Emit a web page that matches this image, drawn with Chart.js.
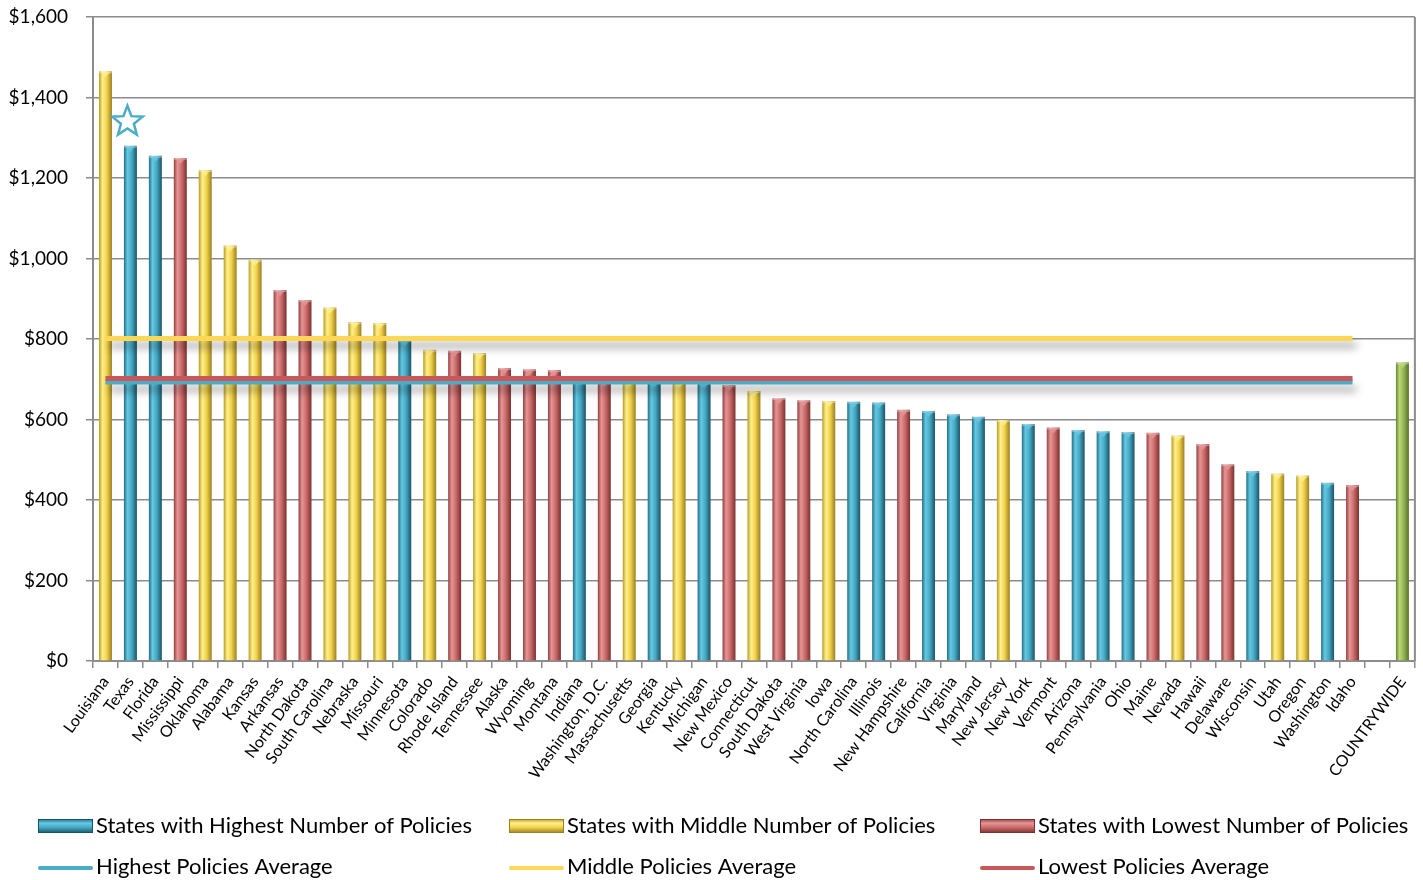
<!DOCTYPE html>
<html>
<head>
<meta charset="utf-8">
<title>Average premium by state</title>
<script src="https://cdn.jsdelivr.net/npm/chart.js@4.4.1/dist/chart.umd.min.js"></script>
<style>
  html, body { margin: 0; padding: 0; background: #fff; }
  #wrap { width: 1423px; height: 880px; }
</style>
</head>
<body>
<div id="wrap"><canvas id="premiumChart" width="1423" height="880"></canvas></div>
<script>
(function () {
    // --- DATA ---
    const STATES = [
        'Louisiana', 'Texas', 'Florida', 'Mississippi', 'Oklahoma', 'Alabama', 'Kansas',
        'Arkansas', 'North Dakota', 'South Carolina', 'Nebraska', 'Missouri', 'Minnesota',
        'Colorado', 'Rhode Island', 'Tennessee', 'Alaska', 'Wyoming', 'Montana', 'Indiana',
        'Washington, D.C.', 'Massachusetts', 'Georgia', 'Kentucky', 'Michigan', 'New Mexico',
        'Connecticut', 'South Dakota', 'West Virginia', 'Iowa', 'North Carolina', 'Illinois',
        'New Hampshire', 'California', 'Virginia', 'Maryland', 'New Jersey', 'New York',
        'Vermont', 'Arizona', 'Pennsylvania', 'Ohio', 'Maine', 'Nevada', 'Hawaii', 'Delaware',
        'Wisconsin', 'Utah', 'Oregon', 'Washington', 'Idaho'
    ];
    const PREMIUMS = [
        1465, 1280, 1255, 1250, 1220, 1032, 997,
        922, 897, 878, 842, 840, 797,
        773, 771, 765, 728, 725, 723, 700,
        697, 696, 695, 694, 692, 686,
        671, 653, 648, 646, 644, 642,
        624, 621, 613, 607, 599, 589,
        580, 574, 571, 569, 567, 560, 539, 489,
        472, 466, 461, 443, 437
    ];
    // policy-count tier of each state: H = highest, M = middle, L = lowest
    const TIERS = [
        'M', 'H', 'H', 'L', 'M', 'M', 'M',
        'L', 'L', 'M', 'M', 'M', 'H',
        'M', 'L', 'M', 'L', 'L', 'L', 'H',
        'L', 'M', 'H', 'M', 'H', 'L',
        'M', 'L', 'L', 'M', 'H', 'H',
        'L', 'H', 'H', 'H', 'M', 'H',
        'L', 'H', 'H', 'H', 'L', 'M', 'L', 'L',
        'H', 'M', 'M', 'H', 'L'
    ];
    const COUNTRYWIDE_LABEL = 'COUNTRYWIDE';
    const COUNTRYWIDE_PREMIUM = 742;
    const HIGH_AVG = 693;
    const MID_AVG = 801;
    const LOW_AVG = 702;
    const STAR_STATE = 'Texas';
    const STAR_VALUE = 1340;
    const Y_TICKS = [0, 200, 400, 600, 800, 1000, 1200, 1400, 1600];

    // --- STYLES ---
    const FONT = 'Lato, "Open Sans", sans-serif';
    const GRID = '#8c8c8c';
    const BLUE = ['#236f86', '#66c8e2', '#45a9c5', '#1b5366'];
    const YELLOW = ['#b89c26', '#fff08c', '#f2d24c', '#9a8020'];
    const RED = ['#943f3f', '#e59696', '#cc6a6a', '#7a3131'];
    const GREEN = ['#68842f', '#bad67a', '#95b552', '#56702a'];
    const LINE_BLUE = '#4bacc6';
    const LINE_YELLOW = '#ffd757';
    const LINE_RED = '#c9585a';

    const labels = STATES.concat(['', COUNTRYWIDE_LABEL]);
    const tierData = (tier) => labels.map((_, i) => (TIERS[i] === tier ? PREMIUMS[i] : null));
    const countrywideData = labels.map((l) => (l === COUNTRYWIDE_LABEL ? COUNTRYWIDE_PREMIUM : null));
    const first = STATES[0];
    const last = STATES[STATES.length - 1];
    const avgLine = (v) => [{ x: first, y: v }, { x: last, y: v }];

    const BAR_PCT = 0.52;

    // horizontal gradient across one bar, gives the cylinder look
    const barFill = (stops) => (c) => {
        const chart = c.chart;
        const xs = chart.scales.x;
        if (!chart.chartArea || !xs || c.dataIndex === undefined) return stops[2];
        const w = (xs.width / labels.length) * BAR_PCT;
        const cx = xs.getPixelForValue(c.dataIndex);
        const g = chart.ctx.createLinearGradient(cx - w / 2, 0, cx + w / 2, 0);
        g.addColorStop(0, stops[0]);
        g.addColorStop(0.28, stops[1]);
        g.addColorStop(0.6, stops[2]);
        g.addColorStop(1, stops[3]);
        return g;
    };

    const barSet = (label, data, stops) => ({
        type: 'bar',
        label: label,
        data: data,
        backgroundColor: barFill(stops),
        borderWidth: 0,
        categoryPercentage: 1,
        barPercentage: BAR_PCT,
        skipNull: true,
        order: 2,
        capColor: stops[1]
    });

    const lineSet = (label, v, color) => ({
        type: 'line',
        label: label,
        data: avgLine(v),
        borderColor: color,
        borderWidth: 5,
        pointRadius: 0,
        fill: false,
        order: 1,
        shadow: color !== LINE_RED
    });

    // --- PLUGINS ---
    // small bevelled cap on top of every bar
    const barCaps = {
        id: 'barCaps',
        afterDatasetDraw(chart, args) {
            const ds = chart.data.datasets[args.index];
            if (!ds.capColor) return;
            const ctx = chart.ctx;
            ctx.save();
            args.meta.data.forEach((bar, i) => {
                if (ds.data[i] === null) return;
                const half = bar.width / 2;
                ctx.fillStyle = 'rgba(255,255,255,0.35)';
                ctx.fillRect(bar.x - half, bar.y, bar.width, 2);
                ctx.globalAlpha = 0.8;
                ctx.fillStyle = ds.capColor;
                ctx.beginPath();
                ctx.moveTo(bar.x - half + 2, bar.y + 1);
                ctx.lineTo(bar.x + half - 2, bar.y + 1);
                ctx.lineTo(bar.x, bar.y + 6);
                ctx.closePath();
                ctx.fill();
                ctx.globalAlpha = 1;
            });
            ctx.restore();
        }
    };

    const lineShadow = {
        id: 'lineShadow',
        beforeDatasetDraw(chart, args) {
            const ds = chart.data.datasets[args.index];
            if (!ds.shadow) return;
            const ctx = chart.ctx;
            ctx.save();
            ctx.shadowColor = 'rgba(0,0,0,0.38)';
            ctx.shadowBlur = 9;
            ctx.shadowOffsetX = 4;
            ctx.shadowOffsetY = 7;
        },
        afterDatasetDraw(chart, args) {
            const ds = chart.data.datasets[args.index];
            if (ds.shadow) chart.ctx.restore();
        }
    };

    const frame = {
        id: 'frame',
        beforeDatasetsDraw(chart) {
            const { ctx, chartArea } = chart;
            ctx.save();
            ctx.strokeStyle = GRID;
            ctx.lineWidth = 2;
            ctx.beginPath();
            ctx.moveTo(chartArea.right, chartArea.top);
            ctx.lineTo(chartArea.right, chartArea.bottom);
            ctx.stroke();
            ctx.restore();
        }
    };

    const starMark = {
        id: 'starMark',
        afterDatasetsDraw(chart) {
            const ctx = chart.ctx;
            const cx = chart.scales.x.getPixelForValue(STATES.indexOf(STAR_STATE)) - 3;
            const cy = chart.scales.y.getPixelForValue(STAR_VALUE);
            const R = 16, r = 6.8;
            ctx.save();
            ctx.beginPath();
            for (let i = 0; i < 10; i++) {
                const rad = i % 2 === 0 ? R : r;
                const a = -Math.PI / 2 + (i * Math.PI) / 5;
                const px = cx + rad * Math.cos(a);
                const py = cy + rad * Math.sin(a);
                if (i === 0) ctx.moveTo(px, py);
                else ctx.lineTo(px, py);
            }
            ctx.closePath();
            ctx.fillStyle = '#fff';
            ctx.fill();
            ctx.strokeStyle = '#4bacc6';
            ctx.lineWidth = 2.5;
            ctx.lineJoin = 'miter';
            ctx.stroke();
            ctx.restore();
        }
    };

    // legend laid out as a fixed 3 x 2 grid under the axis labels
    const LEGEND_ITEMS = [
        { text: 'States with Highest Number of Policies', box: BLUE, col: 0, row: 0 },
        { text: 'States with Middle Number of Policies', box: YELLOW, col: 1, row: 0 },
        { text: 'States with Lowest Number of Policies', box: RED, col: 2, row: 0 },
        { text: 'Highest Policies Average', line: LINE_BLUE, col: 0, row: 1 },
        { text: 'Middle Policies Average', line: LINE_YELLOW, col: 1, row: 1 },
        { text: 'Lowest Policies Average', line: LINE_RED, col: 2, row: 1 }
    ];
    const LEGEND_COLS = [38, 509, 980];
    const LEGEND_ROWS = [826, 867];

    const gridLegend = {
        id: 'gridLegend',
        afterDraw(chart) {
            const ctx = chart.ctx;
            ctx.save();
            ctx.font = '22px ' + FONT;
            ctx.textBaseline = 'middle';
            ctx.fillStyle = '#000';
            LEGEND_ITEMS.forEach((it) => {
                const x = LEGEND_COLS[it.col];
                const y = LEGEND_ROWS[it.row];
                if (it.box) {
                    const g = ctx.createLinearGradient(0, y - 7, 0, y + 7);
                    g.addColorStop(0, it.box[0]);
                    g.addColorStop(0.3, it.box[1]);
                    g.addColorStop(0.6, it.box[2]);
                    g.addColorStop(1, it.box[3]);
                    ctx.fillStyle = g;
                    ctx.fillRect(x, y - 7, 55, 14);
                    ctx.strokeStyle = it.box[3];
                    ctx.lineWidth = 1;
                    ctx.strokeRect(x + 0.5, y - 6.5, 54, 13);
                } else {
                    ctx.strokeStyle = it.line;
                    ctx.lineWidth = 4;
                    ctx.lineCap = 'round';
                    ctx.beginPath();
                    ctx.moveTo(x + 2, y + 1);
                    ctx.lineTo(x + 53, y + 1);
                    ctx.stroke();
                }
                ctx.fillStyle = '#000';
                ctx.fillText(it.text, x + 58, y);
            });
            ctx.restore();
        }
    };

    // --- CHART ---
    const ctx = document.getElementById('premiumChart');
    new Chart(ctx, {
        type: 'bar',
        data: {
            labels: labels,
            datasets: [
                lineSet('Middle Policies Average', MID_AVG, LINE_YELLOW),
                lineSet('Lowest Policies Average', LOW_AVG, LINE_RED),
                lineSet('Highest Policies Average', HIGH_AVG, LINE_BLUE),
                barSet('States with Highest Number of Policies', tierData('H'), BLUE),
                barSet('States with Middle Number of Policies', tierData('M'), YELLOW),
                barSet('States with Lowest Number of Policies', tierData('L'), RED),
                barSet(COUNTRYWIDE_LABEL, countrywideData, GREEN)
            ]
        },
        options: {
            responsive: false,
            devicePixelRatio: 1,
            animation: false,
            layout: { padding: { top: 17, right: 5, bottom: 0, left: 0 } },
            plugins: {
                legend: { display: false },
                tooltip: { enabled: false }
            },
            scales: {
                x: {
                    type: 'category',
                    offset: true,
                    afterFit: (s) => { s.height = 219; },
                    grid: {
                        offset: true,
                        drawOnChartArea: false,
                        drawTicks: true,
                        tickLength: 7,
                        color: GRID,
                        lineWidth: 1.5
                    },
                    border: { color: GRID, width: 2 },
                    ticks: {
                        autoSkip: false,
                        minRotation: 54,
                        maxRotation: 54,
                        padding: 5,
                        color: '#000',
                        font: { family: FONT, size: 16 }
                    }
                },
                y: {
                    min: 0,
                    max: 1600,
                    afterFit: (s) => {
                        s.width = 93;
                        // the label padding must not push the plot top down
                        s.paddingTop = 0;
                        s.paddingBottom = 0;
                    },
                    afterBuildTicks: (s) => { s.ticks = Y_TICKS.map((v) => ({ value: v })); },
                    grid: {
                        color: GRID,
                        lineWidth: 1.5,
                        tickLength: 7
                    },
                    border: { color: GRID, width: 2 },
                    ticks: {
                        padding: 18,
                        color: '#000',
                        font: { family: FONT, size: 19 },
                        callback: (v) => '$' + Number(v).toLocaleString('en-US')
                    }
                }
            }
        },
        plugins: [barCaps, lineShadow, frame, starMark, gridLegend]
    });
})();
</script>
</body>
</html>
